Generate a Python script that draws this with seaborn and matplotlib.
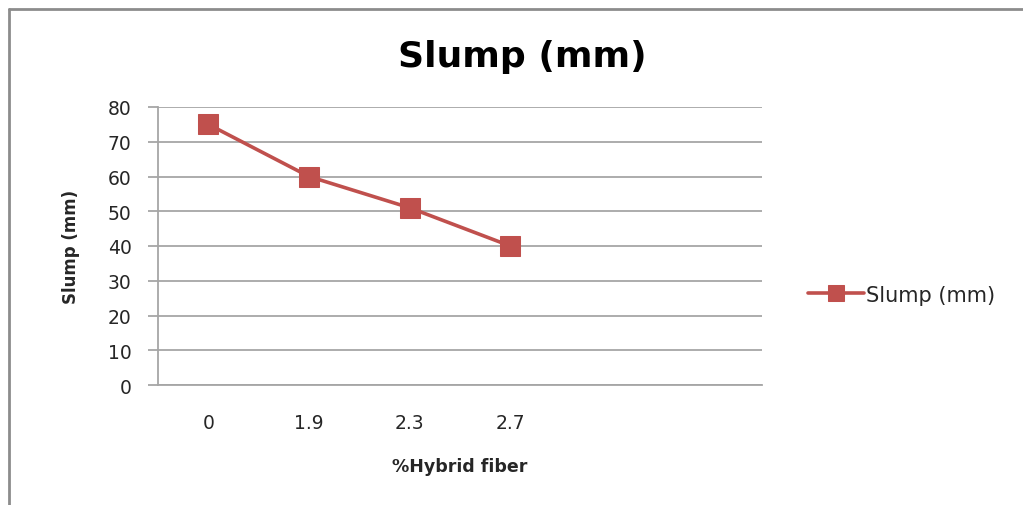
import numpy as np
import pandas as pd
import matplotlib
matplotlib.use("Agg")
import matplotlib.pyplot as plt
from matplotlib.lines import Line2D
import seaborn as sns

# Data
fiber_labels = ["0", "1.9", "2.3", "2.7"]
slump_mm = [75, 60, 51, 40]
n_slots = 6  # category slots on the x axis (last two empty)
y_ticks = [0, 10, 20, 30, 40, 50, 60, 70, 80]

sns.set_theme(style="white")
plt.rcParams["font.family"] = ["DejaVu Sans"]

df = pd.DataFrame({"pos": np.arange(len(fiber_labels)), "slump": slump_mm})

fig = plt.figure(figsize=(10.23, 5.06), dpi=100)
ax = fig.add_axes([158 / 1023, 1 - 386 / 506, (762 - 158) / 1023, (386 - 108) / 506])

line_color = "#C0504D"
grid_color = "#A6A6A6"
text_color = "#262626"

sns.lineplot(data=df, x="pos", y="slump", ax=ax, color=line_color, linewidth=2.6,
             marker="s", markersize=14, markeredgecolor=line_color,
             label="Slump (mm)")

ax.set_xlim(-0.5, n_slots - 0.5)
ax.set_ylim(0, 80)
ax.set_yticks(y_ticks)
ax.yaxis.grid(True, color=grid_color, linewidth=1.3)
ax.set_axisbelow(True)

# category labels centred in their slots, tick marks on the slot boundaries
ax.set_xticks(np.arange(len(fiber_labels)))
ax.set_xticklabels(fiber_labels)
ax.set_xticks(np.arange(n_slots + 1) - 0.5, minor=True)
ax.tick_params(axis="x", which="major", length=0, pad=20, labelsize=13.5, labelcolor=text_color)
ax.tick_params(axis="x", which="minor", length=5, width=1.3, color=grid_color, direction="out")
ax.tick_params(axis="y", which="major", length=7, width=1.3, color=grid_color,
               direction="out", pad=12, labelsize=13.5, labelcolor=text_color, left=True)

for side in ["top", "right"]:
    ax.spines[side].set_visible(False)
for side in ["left", "bottom"]:
    ax.spines[side].set_color(grid_color)
    ax.spines[side].set_linewidth(1.3)

ax.set_xlabel("%Hybrid fiber", fontsize=12.5, fontweight="bold", labelpad=18, color=text_color)
ax.set_ylabel("Slump (mm)", fontsize=12, fontweight="bold", labelpad=20, color=text_color)

fig.text(522 / 1023, 1 - 57 / 506, "Slump (mm)", ha="center", va="center",
         fontsize=26, fontweight="bold", color="#000000")

ax.legend(loc="center left", bbox_to_anchor=(1.045, 0.325), frameon=False,
          fontsize=15, handlelength=2.7, handletextpad=0.1, labelcolor=text_color,
          markerscale=0.85)

# outer chart frame
fig.add_artist(Line2D([9 / 1023, 1], [1 - 10 / 506, 1 - 10 / 506], color="#8C8C8C",
                      linewidth=2, transform=fig.transFigure))
fig.add_artist(Line2D([9 / 1023, 9 / 1023], [0, 1 - 10 / 506], color="#8C8C8C",
                      linewidth=2, transform=fig.transFigure))

fig.savefig("out.png", dpi=100, facecolor="white")
